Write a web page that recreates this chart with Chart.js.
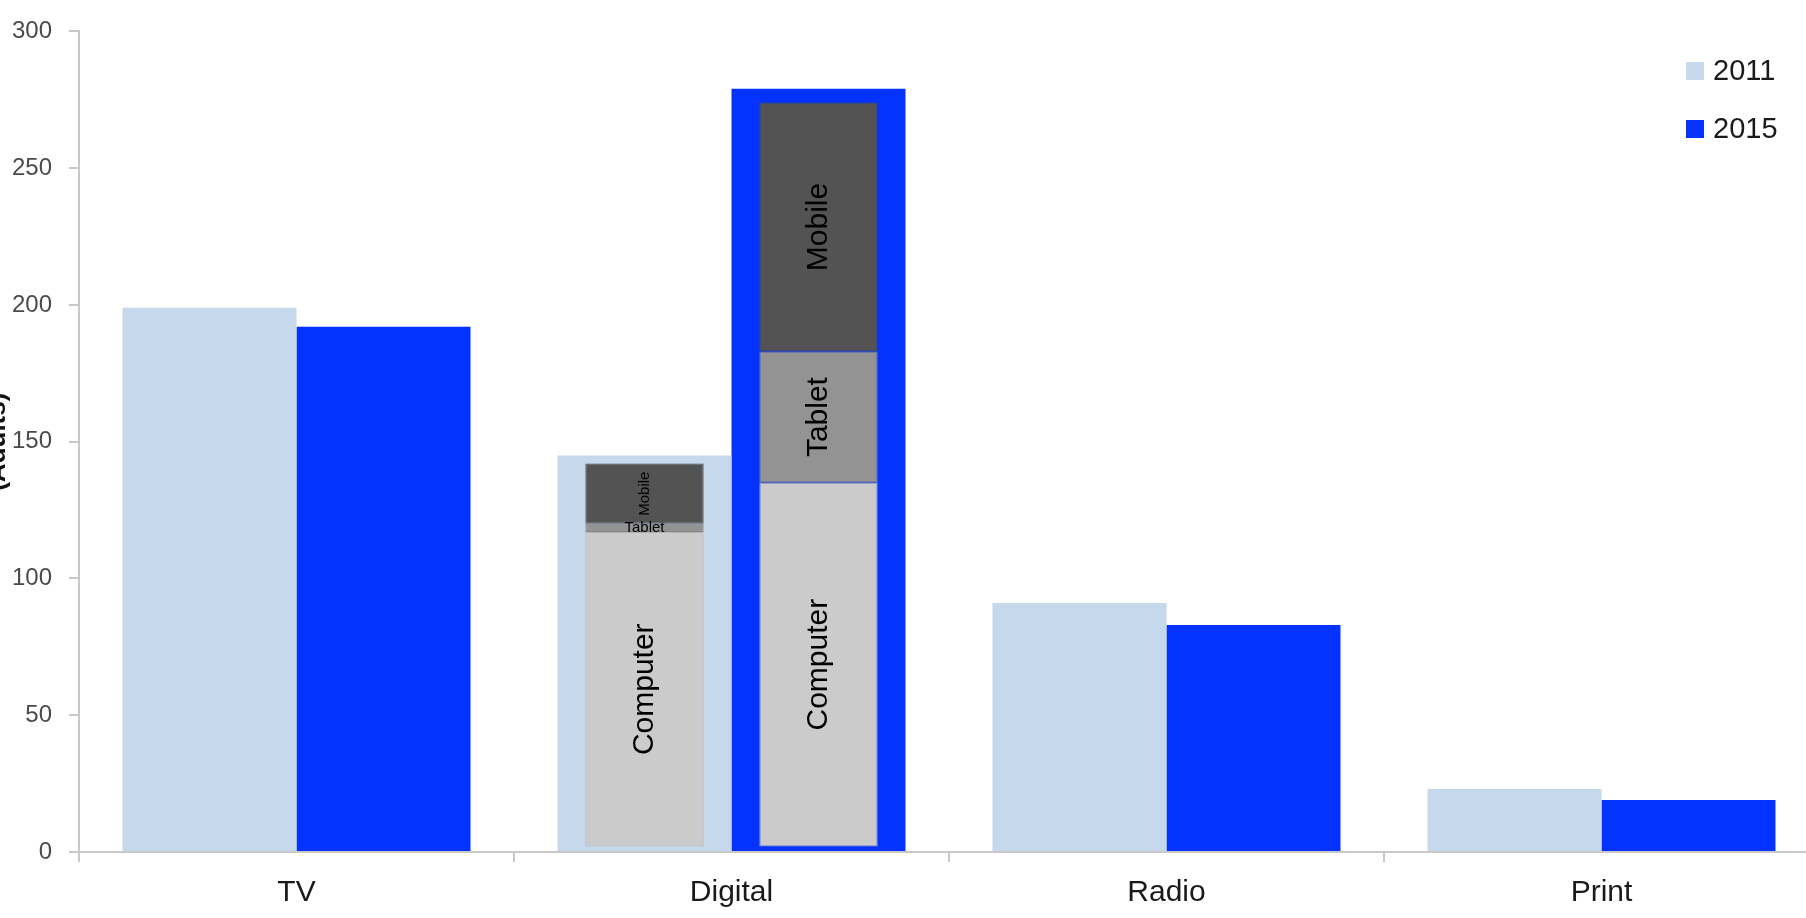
<!DOCTYPE html>
<html><head><meta charset="utf-8">
<script src="https://cdn.jsdelivr.net/npm/chart.js@4"></script>
<style>
html,body{margin:0;padding:0;overflow:hidden;background:#fff;width:1806px;height:918px;}
.wrap{position:absolute;left:-18px;top:0;width:1837px;height:918px;}
</style></head><body>
<div class="wrap"><canvas id="outer"></canvas></div>
<div class="wrap"><canvas id="inner"></canvas></div>
<script>
// ---- data ----
const categories = ['TV', 'Digital', 'Radio', 'Print'];
const years = ['2011', '2015'];
const values2011 = [199, 145, 91, 23];
const values2015 = [192, 279, 83, 19];
// Digital breakdown (segment sizes): Computer, Tablet, Mobile
const devices = ['Computer', 'Tablet', 'Mobile'];
const digital2011 = [115, 3, 22];
const digital2015 = [133, 48, 91];
const innerBase = 2;
const yTickValues = [0, 50, 100, 150, 200, 250, 300];
const yTitle = '(Adults)';

// ---- styles ----
const yearColors = ['#c6d8ec', '#0433ff'];
const deviceColors = ['#cbcbcb', '#939393', '#535353'];
const deviceBorders = ['#b4b4b4', '#858585', '#4a4a4a'];
const FONT = '"Liberation Sans", Arial, Helvetica, sans-serif';
Chart.defaults.font.family = FONT;
const AXIS = '#c8c8c8';

const digitalIdx = categories.indexOf('Digital');
function innerData(segs, k) {
  return categories.map((c, i) => {
    if (i !== digitalIdx) return null;
    return k === 0 ? [innerBase, innerBase + segs[0]] : segs[k];
  });
}
// label styles per inner dataset: [font size, rotated]
const innerLabelStyle = {
  '2011': [[30, true], [15, false], [15, true]],
  '2015': [[30, true], [30, true], [30, true]]
};

function makeScales(visible) {
  const c = (col) => visible ? col : 'rgba(0,0,0,0)';
  return {
    x: {
      type: 'category',
      offset: true,
      grid: { offset: true, drawOnChartArea: false, drawTicks: true, tickLength: 10, color: c(AXIS), lineWidth: 2 },
      border: { color: c(AXIS), width: 2 },
      ticks: { font: { size: 30 }, color: c('#1a1a1a'), padding: 13 },
      afterFit: s => { s.height = 66; }
    },
    y: {
      stacked: !visible,
      min: 0,
      max: 300,
      afterBuildTicks: s => { s.ticks = yTickValues.map(v => ({ value: v })); },
      grid: { drawOnChartArea: false, drawTicks: true, tickLength: 10, color: c(AXIS), lineWidth: 2 },
      border: { color: c(AXIS), width: 2 },
      ticks: { font: { size: 24 }, color: c('#4a4a4a'), padding: 17 },
      title: { display: true, text: yTitle, font: { size: 26, weight: 'bold' }, color: c('#111'), padding: 0 },
      afterFit: s => { s.width = 97; }
    }
  };
}
const baseOptions = (visible) => ({
  responsive: true,
  maintainAspectRatio: false,
  animation: false,
  layout: { padding: { top: 20, right: 0, bottom: 0, left: 0 } },
  plugins: { legend: { display: false }, tooltip: { enabled: false } },
  scales: makeScales(visible)
});

// ---- outer chart: 2011 / 2015 ----
const outerDatasets = [values2011, values2015].map((vals, i) => ({
  label: years[i],
  data: vals,
  backgroundColor: yearColors[i],
  borderWidth: 0,
  categoryPercentage: 0.8,
  barPercentage: 1.0
}));

const sideLegend = {
  id: 'sideLegend',
  afterDraw(chart) {
    const ctx = chart.ctx;
    const x0 = 1704, y0 = 71, gap = 58, box = 18;
    chart.data.datasets.forEach((d, i) => {
      const cy = y0 + i * gap;
      ctx.save();
      ctx.fillStyle = d.backgroundColor;
      ctx.fillRect(x0, cy - box / 2, box, box);
      ctx.font = '29px ' + FONT;
      ctx.fillStyle = '#1a1a1a';
      ctx.textAlign = 'left';
      ctx.textBaseline = 'middle';
      ctx.fillText(d.label, x0 + 27, cy + 1);
      ctx.restore();
    });
  }
};

new Chart(document.getElementById('outer'), {
  type: 'bar',
  data: { labels: categories, datasets: outerDatasets },
  options: baseOptions(true),
  plugins: [sideLegend]
});

// ---- inner chart: Digital breakdown, overlaid ----
const innerDatasets = [];
[[years[0], digital2011], [years[1], digital2015]].forEach(([yr, segs]) => {
  devices.forEach((d, k) => {
    innerDatasets.push({
      label: d + ' ' + yr,
      innerText: d,
      innerFont: innerLabelStyle[yr][k][0],
      innerRotate: innerLabelStyle[yr][k][1],
      data: innerData(segs, k),
      backgroundColor: deviceColors[k],
      borderColor: deviceBorders[k],
      borderWidth: 1,
      borderSkipped: false,
      stack: 'y' + yr,
      categoryPercentage: 0.8,
      barPercentage: 0.68
    });
  });
});

const innerLabels = {
  id: 'innerLabels',
  afterDatasetsDraw(chart) {
    const ctx = chart.ctx;
    chart.data.datasets.forEach((ds, i) => {
      const el = chart.getDatasetMeta(i).data[digitalIdx];
      if (!el) return;
      const p = el.getProps(['x', 'y', 'base'], true);
      ctx.save();
      ctx.translate(p.x, (p.y + p.base) / 2);
      if (ds.innerRotate) ctx.rotate(-Math.PI / 2);
      ctx.font = ds.innerFont + 'px ' + FONT;
      ctx.fillStyle = '#000';
      ctx.textAlign = 'center';
      ctx.textBaseline = 'middle';
      ctx.fillText(ds.innerText, 0, 0);
      ctx.restore();
    });
  }
};

new Chart(document.getElementById('inner'), {
  type: 'bar',
  data: { labels: categories, datasets: innerDatasets },
  options: baseOptions(false),
  plugins: [innerLabels]
});
</script></body></html>
